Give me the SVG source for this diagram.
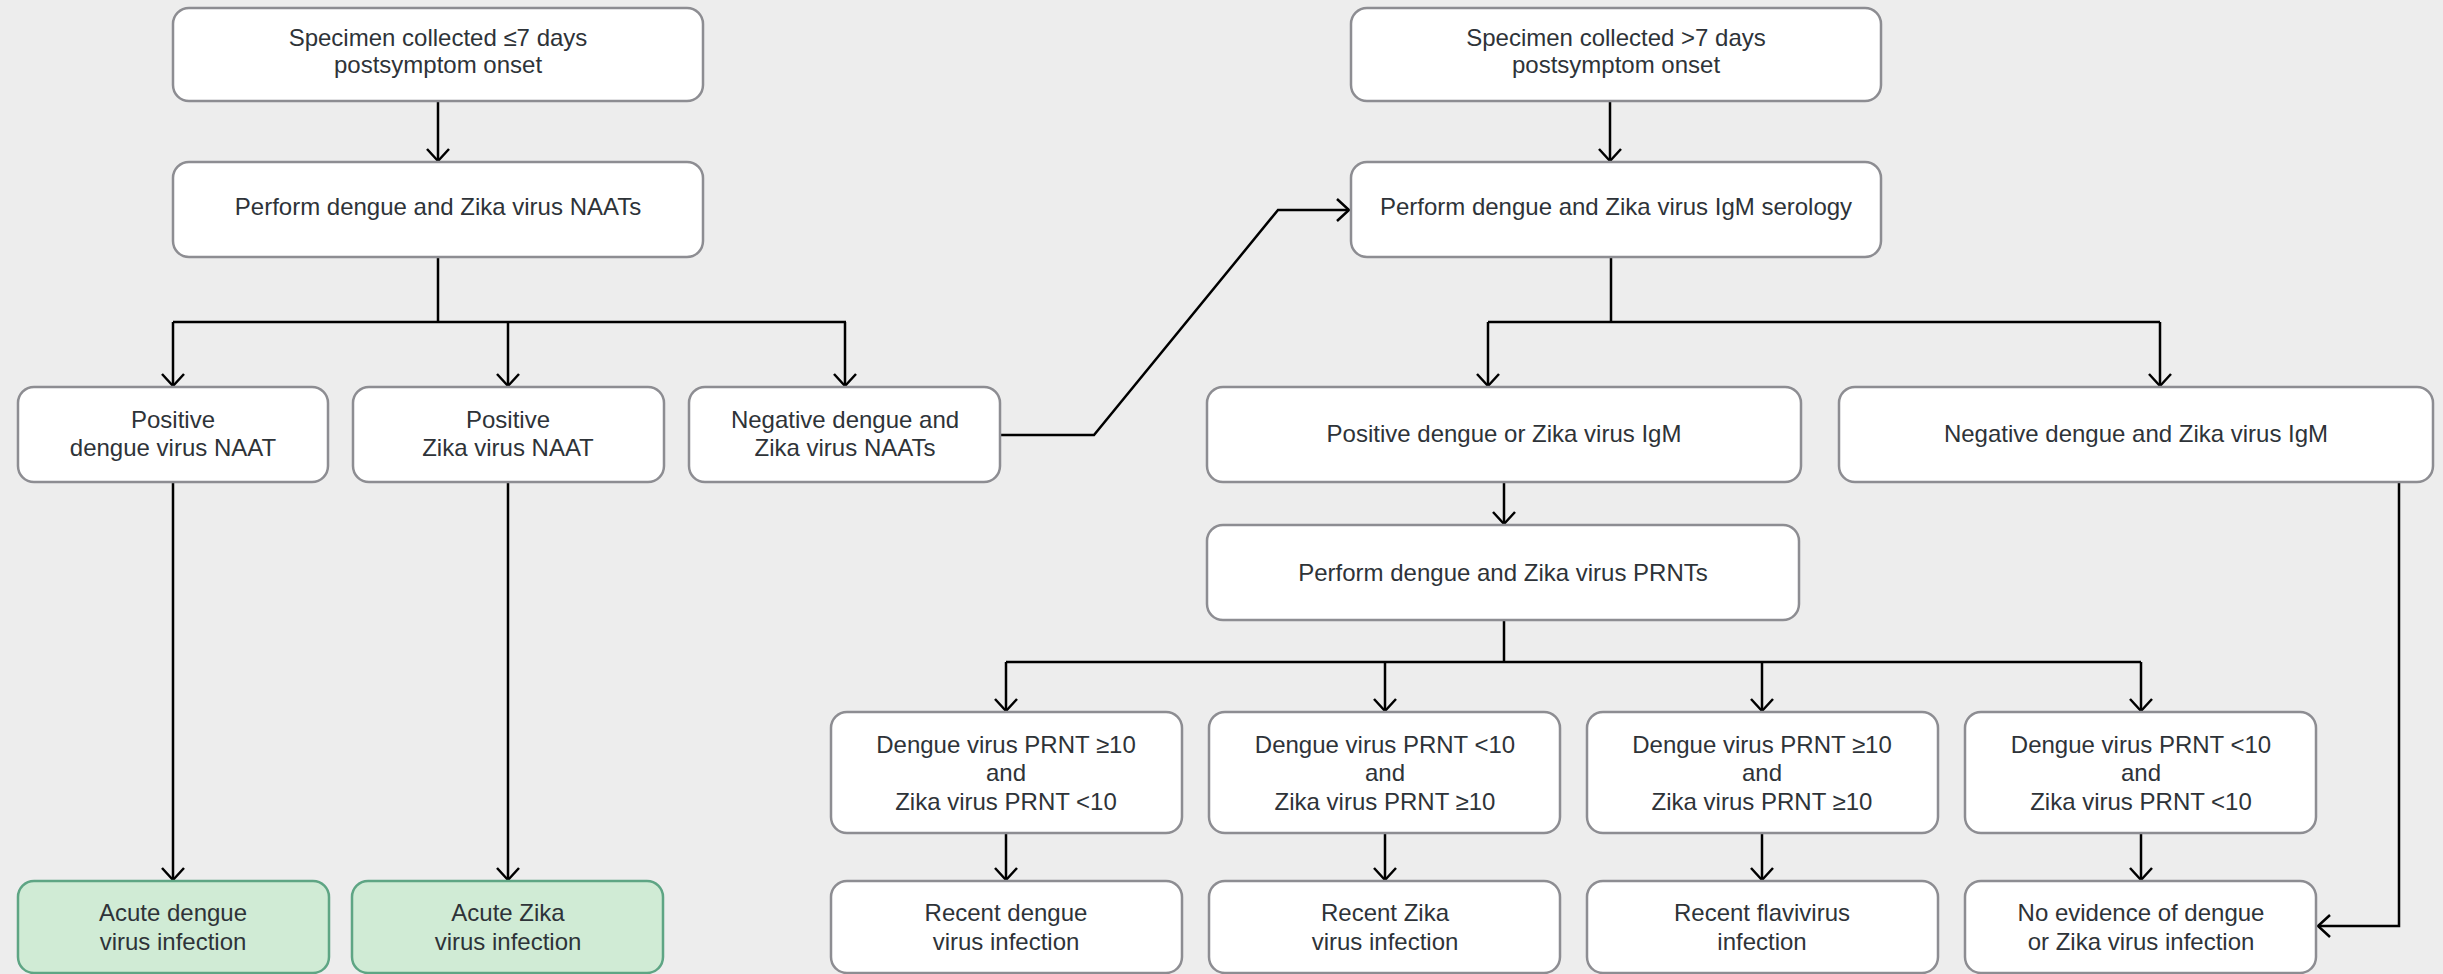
<svg xmlns="http://www.w3.org/2000/svg" width="2443" height="974" viewBox="0 0 2443 974">
<style>
.box{fill:#ffffff;stroke:#8d8d92;stroke-width:2.5}
.green{fill:#d0ebd5;stroke:#5ea584;stroke-width:2.5}
text{font-family:"Liberation Sans",Arial,Helvetica,sans-serif;font-size:24px;fill:#2e3338;text-anchor:middle}
.c{fill:none;stroke:#000;stroke-width:2.5;stroke-linejoin:miter}
.a{marker-end:url(#arr)}
</style>
<defs>
<marker id="arr" markerUnits="userSpaceOnUse" markerWidth="26" markerHeight="26" viewBox="-13 -13 26 26" refX="0" refY="0" orient="auto">
<path d="M-12,-11 L0,0 L-12,11" fill="none" stroke="#000" stroke-width="2.5"/>
</marker>
</defs>
<rect width="2443" height="974" fill="#ededed"/>
<g id="connectors">
<path class="c a" d="M438,101 V161"/>
<path class="c" d="M438,257 V322 M173,322 H846"/>
<path class="c a" d="M173,322 V386"/>
<path class="c a" d="M508,322 V386"/>
<path class="c a" d="M845,322 V386"/>
<path class="c a" d="M173,482 V880"/>
<path class="c a" d="M508,482 V880"/>
<path class="c a" d="M1000,435 H1094 L1278,210 H1349"/>
<path class="c a" d="M1610,101 V161"/>
<path class="c" d="M1611,257 V322 M1488,322 H2160"/>
<path class="c a" d="M1488,322 V386"/>
<path class="c a" d="M2160,322 V386"/>
<path class="c a" d="M1504,482 V524"/>
<path class="c" d="M1504,620 V662 M1006,662 H2141"/>
<path class="c a" d="M1006,662 V711"/>
<path class="c a" d="M1385,662 V711"/>
<path class="c a" d="M1762,662 V711"/>
<path class="c a" d="M2141,662 V711"/>
<path class="c a" d="M1006,833 V880"/>
<path class="c a" d="M1385,833 V880"/>
<path class="c a" d="M1762,833 V880"/>
<path class="c a" d="M2141,833 V880"/>
<path class="c a" d="M2399,482 V926 H2318"/>
</g>
<g id="n1"><rect class="box" x="173" y="8" width="530" height="93" rx="16"/><text x="438" y="46">Specimen collected ≤7 days</text><text x="438" y="73">postsymptom onset</text></g>
<g id="n2"><rect class="box" x="173" y="162" width="530" height="95" rx="16"/><text x="438" y="215">Perform dengue and Zika virus NAATs</text></g>
<g id="n3"><rect class="box" x="18" y="387" width="310" height="95" rx="16"/><text x="173" y="428">Positive</text><text x="173" y="456">dengue virus NAAT</text></g>
<g id="n4"><rect class="box" x="353" y="387" width="311" height="95" rx="16"/><text x="508" y="428">Positive</text><text x="508" y="456">Zika virus NAAT</text></g>
<g id="n5"><rect class="box" x="689" y="387" width="311" height="95" rx="16"/><text x="845" y="428">Negative dengue and</text><text x="845" y="456">Zika virus NAATs</text></g>
<g id="n6"><rect class="green" x="18" y="881" width="311" height="92" rx="16"/><text x="173" y="921">Acute dengue</text><text x="173" y="950">virus infection</text></g>
<g id="n7"><rect class="green" x="352" y="881" width="311" height="92" rx="16"/><text x="508" y="921">Acute Zika</text><text x="508" y="950">virus infection</text></g>
<g id="n8"><rect class="box" x="1351" y="8" width="530" height="93" rx="16"/><text x="1616" y="46">Specimen collected &gt;7 days</text><text x="1616" y="73">postsymptom onset</text></g>
<g id="n9"><rect class="box" x="1351" y="162" width="530" height="95" rx="16"/><text x="1616" y="215">Perform dengue and Zika virus IgM serology</text></g>
<g id="n10"><rect class="box" x="1207" y="387" width="594" height="95" rx="16"/><text x="1504" y="442">Positive dengue or Zika virus IgM</text></g>
<g id="n11"><rect class="box" x="1839" y="387" width="594" height="95" rx="16"/><text x="2136" y="442">Negative dengue and Zika virus IgM</text></g>
<g id="n12"><rect class="box" x="1207" y="525" width="592" height="95" rx="16"/><text x="1503" y="581">Perform dengue and Zika virus PRNTs</text></g>
<g id="n13"><rect class="box" x="831" y="712" width="351" height="121" rx="16"/><text x="1006" y="753">Dengue virus PRNT ≥10</text><text x="1006" y="781">and</text><text x="1006" y="810">Zika virus PRNT &lt;10</text></g>
<g id="n14"><rect class="box" x="1209" y="712" width="351" height="121" rx="16"/><text x="1385" y="753">Dengue virus PRNT &lt;10</text><text x="1385" y="781">and</text><text x="1385" y="810">Zika virus PRNT ≥10</text></g>
<g id="n15"><rect class="box" x="1587" y="712" width="351" height="121" rx="16"/><text x="1762" y="753">Dengue virus PRNT ≥10</text><text x="1762" y="781">and</text><text x="1762" y="810">Zika virus PRNT ≥10</text></g>
<g id="n16"><rect class="box" x="1965" y="712" width="351" height="121" rx="16"/><text x="2141" y="753">Dengue virus PRNT &lt;10</text><text x="2141" y="781">and</text><text x="2141" y="810">Zika virus PRNT &lt;10</text></g>
<g id="n17"><rect class="box" x="831" y="881" width="351" height="92" rx="16"/><text x="1006" y="921">Recent dengue</text><text x="1006" y="950">virus infection</text></g>
<g id="n18"><rect class="box" x="1209" y="881" width="351" height="92" rx="16"/><text x="1385" y="921">Recent Zika</text><text x="1385" y="950">virus infection</text></g>
<g id="n19"><rect class="box" x="1587" y="881" width="351" height="92" rx="16"/><text x="1762" y="921">Recent flavivirus</text><text x="1762" y="950">infection</text></g>
<g id="n20"><rect class="box" x="1965" y="881" width="351" height="92" rx="16"/><text x="2141" y="921">No evidence of dengue</text><text x="2141" y="950">or Zika virus infection</text></g>
</svg>
